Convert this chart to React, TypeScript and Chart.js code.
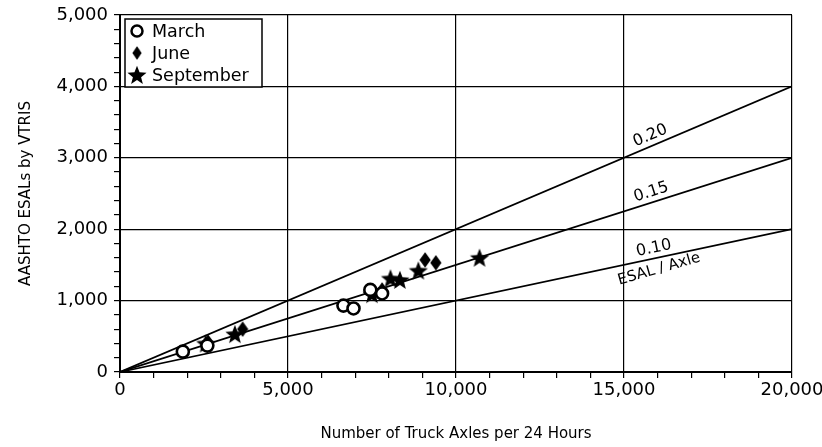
import React, { useEffect, useRef } from "react";
import { Chart, registerables } from "chart.js";

Chart.register(...registerables);

// ---------- data ----------
const marchX = [1870, 2600, 6650, 6950, 7450, 7800];
const marchY = [285, 370, 930, 890, 1150, 1100];

const juneX = [2620, 3650, 7550, 7800, 9080, 9400];
const juneY = [420, 600, 1100, 1150, 1570, 1530];

const septX = [2550, 3420, 7500, 8050, 8330, 8880, 10700];
const septY = [400, 530, 1090, 1310, 1290, 1420, 1600];

const rateValues = [0.1, 0.15, 0.2];
const rateLabels = ["0.10", "0.15", "0.20"];
const rateLabelX = [15950, 15900, 15900];
const unitLabel = "ESAL / Axle";

const seriesNames = ["March", "June", "September"];
const xTitle = "Number of Truck Axles per 24 Hours";
const yTitle = "AASHTO ESALs by VTRIS";

const X_MAX = 20000;
const Y_MAX = 5000;

const FONT = "'DejaVu Sans', sans-serif";

function makeStar(): HTMLCanvasElement {
  const c = document.createElement("canvas");
  c.width = 22;
  c.height = 22;
  const g = c.getContext("2d")!;
  g.fillStyle = "#000";
  g.beginPath();
  for (let i = 0; i < 10; i++) {
    const r = i % 2 === 0 ? 10 : 4.3;
    const a = -Math.PI / 2 + (i * Math.PI) / 5;
    const px = 11 + r * Math.cos(a);
    const py = 11.8 + r * Math.sin(a);
    if (i === 0) g.moveTo(px, py);
    else g.lineTo(px, py);
  }
  g.closePath();
  g.fill();
  return c;
}

function makeDiamond(): HTMLCanvasElement {
  const c = document.createElement("canvas");
  c.width = 12;
  c.height = 16;
  const g = c.getContext("2d")!;
  g.fillStyle = "#000";
  g.beginPath();
  g.moveTo(6, 0.3);
  g.lineTo(11.6, 8);
  g.lineTo(6, 15.7);
  g.lineTo(0.4, 8);
  g.closePath();
  g.fill();
  return c;
}

function pts(xs: number[], ys: number[]) {
  return xs.map((x, i) => ({ x, y: ys[i] }));
}

export default function App() {
  const ref = useRef<HTMLCanvasElement | null>(null);

  useEffect(() => {
    document.body.style.margin = "0";
    const canvas = ref.current;
    if (!canvas) return;
    const star = makeStar();
    const diamond = makeDiamond();

    const overlay = {
      id: "overlay",
      afterDatasetsDraw(chart: any) {
        const { ctx, chartArea, scales } = chart;
        const xs = scales.x;
        const ys = scales.y;
        ctx.save();
        ctx.fillStyle = "#000";
        rateValues.forEach((r, i) => {
          const x0 = xs.getPixelForValue(0);
          const y0 = ys.getPixelForValue(0);
          const x1 = xs.getPixelForValue(X_MAX);
          const y1 = ys.getPixelForValue(r * X_MAX);
          const ang = Math.atan2(y1 - y0, x1 - x0);
          const lx = rateLabelX[i];
          const px = xs.getPixelForValue(lx);
          const py = ys.getPixelForValue(r * lx);
          ctx.save();
          ctx.translate(px, py);
          ctx.rotate(ang);
          ctx.font = `16px ${FONT}`;
          ctx.textAlign = "center";
          ctx.textBaseline = "bottom";
          ctx.fillText(rateLabels[i], 0, -2);
          if (i === 0) {
            ctx.rotate(-0.07);
            ctx.font = `15px ${FONT}`;
            ctx.textBaseline = "top";
            ctx.fillText(unitLabel, 0, 4);
          }
          ctx.restore();
        });

        // legend
        const lx = chartArea.left + 5;
        const ly = chartArea.top + 4;
        const w = 137;
        const h = 68;
        ctx.fillStyle = "#fff";
        ctx.fillRect(lx, ly, w, h);
        ctx.strokeStyle = "#000";
        ctx.lineWidth = 1.5;
        ctx.strokeRect(lx, ly, w, h);
        ctx.fillStyle = "#000";
        ctx.font = `17.5px ${FONT}`;
        ctx.textAlign = "left";
        ctx.textBaseline = "middle";
        const rows = [ly + 12, ly + 34, ly + 56];
        const mx = lx + 12;
        ctx.beginPath();
        ctx.arc(mx, rows[0], 5.5, 0, Math.PI * 2);
        ctx.lineWidth = 2.5;
        ctx.stroke();
        ctx.drawImage(diamond, mx - 5, rows[1] - 7, 10, 14);
        ctx.drawImage(star, mx - 11, rows[2] - 11);
        seriesNames.forEach((n, i) => ctx.fillText(n, lx + 27, rows[i] + 1));
        ctx.restore();
      },
    };

    const lineSets = rateValues.map((r) => ({
      type: "line" as const,
      label: "rate " + r,
      data: [
        { x: 0, y: 0 },
        { x: X_MAX, y: r * X_MAX },
      ],
      borderColor: "#000",
      borderWidth: 1.7,
      pointRadius: 0,
      fill: false,
      order: 10,
    }));

    const chart = new Chart(canvas, {
      type: "scatter",
      data: {
        datasets: [
          {
            label: seriesNames[0],
            data: pts(marchX, marchY),
            pointStyle: "circle",
            pointRadius: 6,
            borderWidth: 2.6,
            borderColor: "#000",
            backgroundColor: "#fff",
            order: 1,
          },
          {
            label: seriesNames[1],
            data: pts(juneX, juneY),
            pointStyle: diamond as any,
            pointRadius: 6,
            order: 2,
          },
          {
            label: seriesNames[2],
            data: pts(septX, septY),
            pointStyle: star as any,
            pointRadius: 9,
            order: 3,
          },
          ...lineSets,
        ] as any,
      },
      options: {
        responsive: false,
        animation: false,
        layout: { padding: { top: 15, right: 30, left: 0, bottom: 0 } },
        plugins: { legend: { display: false }, tooltip: { enabled: false } },
        scales: {
          x: {
            type: "linear",
            min: 0,
            max: X_MAX,
            afterFit: (s: any) => {
              s.height = 75;
              s.paddingLeft = 0;
              s.paddingRight = 0;
            },
            border: { color: "#000", width: 2 },
            grid: {
              color: (c: any) =>
                c.tick && c.tick.value % 5000 === 0 ? "#000" : "rgba(0,0,0,0)",
              tickColor: "#000",
              tickLength: 6,
              lineWidth: 1.2,
            },
            ticks: {
              stepSize: 1000,
              autoSkip: false,
              maxRotation: 0,
              padding: 2,
              color: "#000",
              font: { family: FONT, size: 18 },
              callback: (v: any) =>
                Number(v) % 5000 === 0 ? Number(v).toLocaleString("en-US") : "",
            },
            title: {
              display: true,
              text: xTitle,
              color: "#000",
              font: { family: FONT, size: 15 },
              padding: { top: 0, bottom: 4 },
            },
          },
          y: {
            type: "linear",
            min: 0,
            max: Y_MAX,
            afterFit: (s: any) => {
              s.width = 120;
              s.paddingTop = 0;
              s.paddingBottom = 0;
            },
            border: { color: "#000", width: 2 },
            grid: {
              color: (c: any) =>
                c.tick && c.tick.value % 1000 === 0 ? "#000" : "rgba(0,0,0,0)",
              tickColor: "#000",
              tickLength: 6,
              lineWidth: 1.2,
            },
            ticks: {
              stepSize: 200,
              autoSkip: false,
              padding: 6,
              color: "#000",
              font: { family: FONT, size: 18 },
              callback: (v: any) =>
                Number(v) % 1000 === 0 ? Number(v).toLocaleString("en-US") : "",
            },
            title: {
              display: true,
              text: yTitle,
              color: "#000",
              font: { family: FONT, size: 15 },
              padding: { top: 17, bottom: 0 },
            },
          },
        },
      },
      plugins: [overlay],
    } as any);

    return () => chart.destroy();
  }, []);

  return (
    <div style={{ width: 822, height: 447, background: "#fff" }}>
      <canvas ref={ref} width={822} height={447} />
    </div>
  );
}
